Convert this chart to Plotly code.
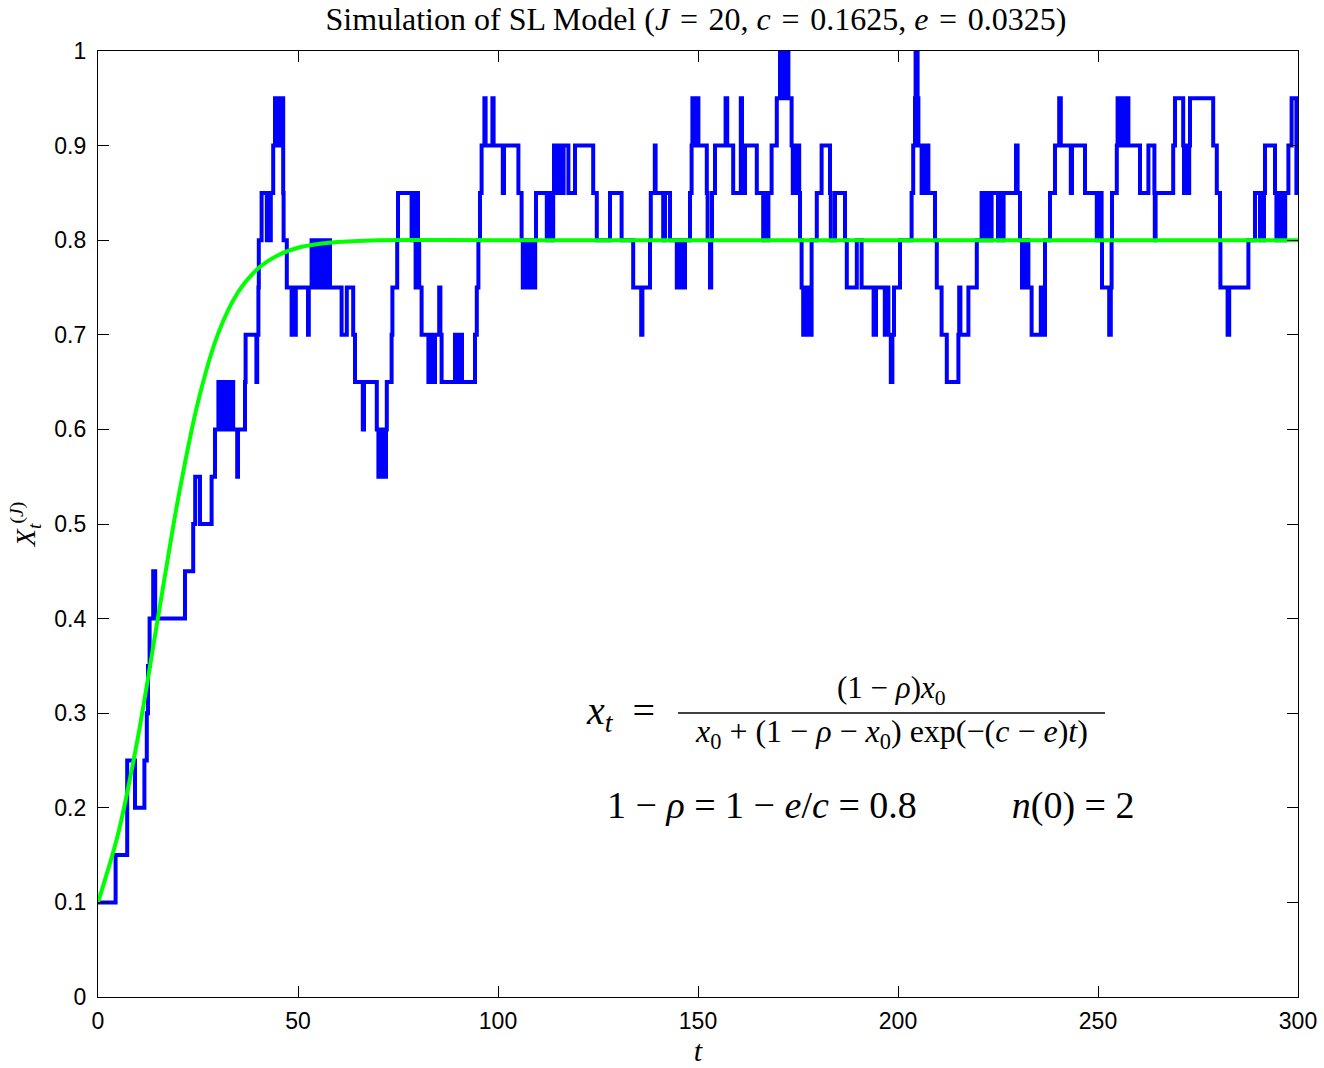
import plotly.graph_objects as go

# ---- data ----
# Jump times of the simulated path and the value taken after each jump
step_t = [0, 4.4, 7.3, 9.25, 11.6, 12.2, 12.5, 12.9, 13.8, 14.3, 21.75, 23.8, 24.3, 25.5, 28.4,
          29.25, 30.1, 31.0, 31.3, 32.2, 32.5, 33.4, 33.6, 33.8, 34.8, 35.0, 36.75, 36.9, 39.6, 39.8,
          40.1, 40.2, 40.9, 42.2, 42.4, 43.0, 43.2, 43.8, 44.25, 45.2, 45.4, 46.3, 46.4, 47.2, 48.4,
          48.6, 49.25, 49.45, 52.5, 52.7, 53.4, 54.0, 54.3, 55.0, 55.2, 56.0, 56.2, 57.0, 57.3, 58.0,
          60.9, 62.2, 63.8, 64.25, 66.2, 66.5, 69.7, 70.1, 70.6, 70.8, 71.4, 71.6, 72.0, 72.2, 73.4,
          73.6, 74.8, 75.0, 78.4, 78.6, 79.2, 79.4, 79.6, 80.0, 80.3, 80.9, 82.6, 83.3, 83.5, 84.25,
          85.3, 85.6, 85.9, 89.25, 90.0, 90.2, 91.0, 94.25, 94.7, 95.1, 95.5, 95.9, 96.6, 96.9, 98.6,
          98.9, 101.2, 101.5, 105.1, 105.9, 106.2, 106.8, 107.0, 107.8, 108.0, 108.6, 108.8, 109.3,
          109.5, 112.2, 112.4, 113.2, 113.8, 114.0, 114.6, 114.8, 115.4, 115.6, 116.2, 116.4, 117.6,
          119.25, 123.8, 124.7, 128.0, 130.9, 133.8, 135.8, 136.1, 138.0, 138.2, 139.2, 139.4, 141.3,
          141.75, 143.0, 144.7, 145.3, 145.5, 146.0, 146.2, 146.75, 148.0, 148.4, 148.6, 149.2, 149.4,
          150.1, 152.2, 152.4, 153.0, 153.3, 153.5, 154.25, 156.9, 157.3, 158.8, 160.7, 161.0, 161.3,
          161.5, 161.75, 164.7, 166.3, 166.8, 167.0, 167.6, 168.4, 169.7, 170.5, 171.3, 171.75, 172.6,
          173.4, 173.7, 173.9, 174.6, 174.8, 175.3, 175.5, 175.9, 176.3, 177.3, 177.5, 178.4, 179.7,
          180.9, 183.0, 183.2, 184.25, 186.75, 187.2, 189.7, 190.9, 193.9, 194.5, 196.7, 197.4, 197.6,
          198.2, 198.6, 199.0, 200.5, 203.4, 203.8, 204.25, 204.4, 204.9, 205.1, 205.9, 206.1, 206.8,
          207.0, 207.6, 209.25, 209.7, 210.9, 212.2, 215.1, 215.3, 215.6, 217.6, 219.7, 220.9, 221.5,
          221.8, 222.4, 222.7, 223.2, 223.4, 225.0, 225.4, 226.0, 226.4, 229.5, 229.9, 230.5, 231.0,
          231.3, 231.8, 232.0, 232.6, 233.4, 235.7, 236.0, 236.75, 238.0, 239.25, 240.3, 240.7, 243.2,
          243.5, 246.75, 249.7, 250.0, 250.9, 251.0, 252.8, 253.2, 253.4, 253.5, 254.7, 254.9, 255.6,
          255.8, 256.4, 256.6, 257.6, 260.5, 262.6, 264.1, 264.2, 264.4, 268.8, 269.25, 271.3, 271.5,
          272.0, 272.2, 272.8, 273.0, 278.8, 279.7, 280.5, 280.6, 282.4, 282.8, 287.6, 289.25, 290.5,
          291.5, 291.75, 294.25, 294.6, 295.0, 295.5, 295.9, 296.4, 296.8, 297.6, 298.4, 299.6]
step_x = [0.10, 0.15, 0.25, 0.20, 0.25, 0.30, 0.35, 0.40, 0.45, 0.40, 0.45, 0.50, 0.55, 0.50, 0.55,
          0.60, 0.65, 0.60, 0.65, 0.60, 0.65, 0.60, 0.65, 0.60, 0.55, 0.60, 0.65, 0.70, 0.65, 0.70,
          0.75, 0.80, 0.85, 0.80, 0.85, 0.80, 0.85, 0.90, 0.95, 0.90, 0.95, 0.85, 0.80, 0.75, 0.70,
          0.75, 0.70, 0.75, 0.70, 0.75, 0.80, 0.75, 0.80, 0.75, 0.80, 0.75, 0.80, 0.75, 0.80, 0.75,
          0.70, 0.75, 0.70, 0.65, 0.60, 0.65, 0.60, 0.55, 0.60, 0.55, 0.60, 0.55, 0.60, 0.65, 0.70,
          0.75, 0.80, 0.85, 0.80, 0.85, 0.80, 0.75, 0.85, 0.80, 0.75, 0.70, 0.65, 0.70, 0.65, 0.70,
          0.75, 0.70, 0.65, 0.70, 0.65, 0.70, 0.65, 0.70, 0.75, 0.80, 0.85, 0.90, 0.95, 0.90, 0.95,
          0.90, 0.85, 0.90, 0.85, 0.80, 0.75, 0.80, 0.75, 0.80, 0.75, 0.80, 0.75, 0.80,
          0.85, 0.80, 0.85, 0.80, 0.85, 0.90, 0.85, 0.90, 0.85, 0.90, 0.85, 0.90, 0.85,
          0.90, 0.85, 0.80, 0.85, 0.80, 0.75, 0.70, 0.75, 0.80, 0.85, 0.90, 0.85, 0.80,
          0.85, 0.80, 0.75, 0.80, 0.75, 0.80, 0.75, 0.80, 0.85, 0.90, 0.95, 0.90, 0.95,
          0.90, 0.85, 0.80, 0.75, 0.80, 0.85, 0.90, 0.95, 0.90, 0.85, 0.95, 0.85, 0.90,
          0.85, 0.90, 0.85, 0.80, 0.85, 0.80, 0.85, 0.90, 0.95, 1.00, 0.95, 1.00, 0.95,
          0.90, 0.85, 0.90, 0.85, 0.90, 0.85, 0.80, 0.75, 0.70, 0.75, 0.70, 0.80, 0.85,
          0.90, 0.85, 0.80, 0.85, 0.80, 0.75, 0.80, 0.75, 0.70, 0.75, 0.70, 0.75, 0.70,
          0.65, 0.70, 0.75, 0.80, 0.85, 0.90, 0.95, 1.00, 0.95, 0.90, 0.85, 0.90, 0.85,
          0.90, 0.85, 0.80, 0.75, 0.70, 0.65, 0.70, 0.75, 0.70, 0.75, 0.80, 0.85, 0.80,
          0.85, 0.80, 0.85, 0.80, 0.85, 0.80, 0.85, 0.80, 0.85, 0.90, 0.85, 0.80, 0.75,
          0.80, 0.75, 0.80, 0.75, 0.70, 0.75, 0.70, 0.80, 0.85, 0.90, 0.95, 0.90, 0.85,
          0.90, 0.85, 0.80, 0.85, 0.80, 0.75, 0.70, 0.75, 0.80, 0.85, 0.90, 0.95, 0.90,
          0.95, 0.90, 0.95, 0.90, 0.85, 0.90, 0.85, 0.80, 0.85, 0.90, 0.95, 0.90, 0.85,
          0.90, 0.85, 0.90, 0.95, 0.90, 0.85, 0.80, 0.75, 0.70, 0.75, 0.80, 0.85, 0.80,
          0.85, 0.90, 0.85, 0.80, 0.85, 0.80, 0.85, 0.80, 0.85, 0.90, 0.95, 0.85]
t_end = 300

# Deterministic (green) curve
curve_t = [0, 5, 10, 15, 20, 25, 30, 35, 40, 45, 50, 55, 60, 70, 100, 300]
curve_x = [0.100, 0.172, 0.275, 0.401, 0.526, 0.629, 0.701, 0.745, 0.770, 0.784, 0.792,
           0.796, 0.798, 0.800, 0.800, 0.800]

x_ticks = [0, 50, 100, 150, 200, 250, 300]
y_ticks = [0, 0.1, 0.2, 0.3, 0.4, 0.5, 0.6, 0.7, 0.8, 0.9, 1.0]
y_tick_text = ["0", "0.1", "0.2", "0.3", "0.4", "0.5", "0.6", "0.7", "0.8", "0.9", "1"]

W, H = 1324, 1068
L, R, T, B = 98, 26, 51, 71
SERIF = "Liberation Serif, Times New Roman, serif"
SANS = "Liberation Sans, Arial, sans-serif"
MS = "\u2005"   # four-per-em space
TS = "\u2004"   # three-per-em space

fig = go.Figure()
fig.add_trace(go.Scatter(
    x=step_t + [t_end], y=step_x + [step_x[-1]],
    mode="lines", line=dict(color="#0000FF", width=4, shape="hv"),
    showlegend=False, hoverinfo="skip"))
fig.add_trace(go.Scatter(
    x=curve_t, y=curve_x, mode="lines",
    line=dict(color="#00FF00", width=4, shape="spline", smoothing=0.8),
    showlegend=False, hoverinfo="skip"))


def px(xp):
    return (xp - L) / (W - L - R)


def py(yp):
    return (H - B - yp) / (H - T - B)


ann = [
    dict(text="<i>x</i><sub><i>t</i></sub>\u2002=", x=px(620), y=py(713), size=40),
    dict(text=f"(1{MS}\u2212{MS}<i>ρ</i>)<i>x</i><sub>0</sub>", x=px(891), y=py(690), size=31),
    dict(text=f"<i>x</i><sub>0</sub>{MS}+{MS}(1{MS}\u2212{MS}<i>ρ</i>{MS}\u2212{MS}<i>x</i><sub>0</sub>)"
              f" exp(\u2212(<i>c</i>{MS}\u2212{MS}<i>e</i>)<i>t</i>)",
         x=px(891), y=py(733), size=32),
    dict(text="1 \u2212 <i>ρ</i> = 1 \u2212 <i>e</i>/<i>c</i> = 0.8 \u2003\u2003 <i>n</i>(0) = 2",
         x=px(871), y=py(805), size=38),
]
annotations = [dict(text=a["text"], x=a["x"], y=a["y"], xref="paper", yref="paper",
                    xanchor="center", yanchor="middle", showarrow=False,
                    font=dict(family=SERIF, size=a["size"], color="black")) for a in ann]

fig.update_layout(
    width=W, height=H,
    margin=dict(l=L, r=R, t=T, b=B, autoexpand=False),
    paper_bgcolor="white", plot_bgcolor="white",
    title=dict(text=f"Simulation of SL Model (<i>J</i>{TS}={TS}20, <i>c</i>{TS}={TS}0.1625, "
                    f"<i>e</i>{TS}={TS}0.0325)",
               x=696 / W, xanchor="center", xref="container",
               y=1 - 19 / H, yanchor="middle", yref="container",
               font=dict(family=SERIF, size=32, color="black")),
    annotations=annotations,
    shapes=[dict(type="line", xref="paper", yref="paper", x0=px(678), x1=px(1105),
                 y0=py(713), y1=py(713), line=dict(color="black", width=1.5))],
)
fig.update_xaxes(range=[0, 300], tickvals=x_ticks, ticks="inside", ticklen=11, tickwidth=1,
                 tickcolor="black", showline=True, linecolor="black", linewidth=1.3,
                 mirror="ticks", showgrid=False, zeroline=False, ticklabelstandoff=3,
                 automargin=False,
                 tickfont=dict(family=SANS, size=23, color="black"),
                 title=dict(text="<i>t</i>", font=dict(family=SERIF, size=30, color="black"),
                            standoff=4))
fig.update_yaxes(range=[0, 1], tickvals=y_ticks, ticktext=y_tick_text, ticks="inside",
                 ticklen=11, tickwidth=1, tickcolor="black", showline=True, linecolor="black",
                 linewidth=1.3, mirror="ticks", showgrid=False, zeroline=False,
                 ticklabelstandoff=6, automargin=False,
                 tickfont=dict(family=SANS, size=23, color="black"),
                 title=dict(text="<i>X</i><sub><i>t</i></sub><sup>(<i>J</i>)</sup>",
                            font=dict(family=SERIF, size=28, color="black"), standoff=10))

fig.write_html("out.html")
